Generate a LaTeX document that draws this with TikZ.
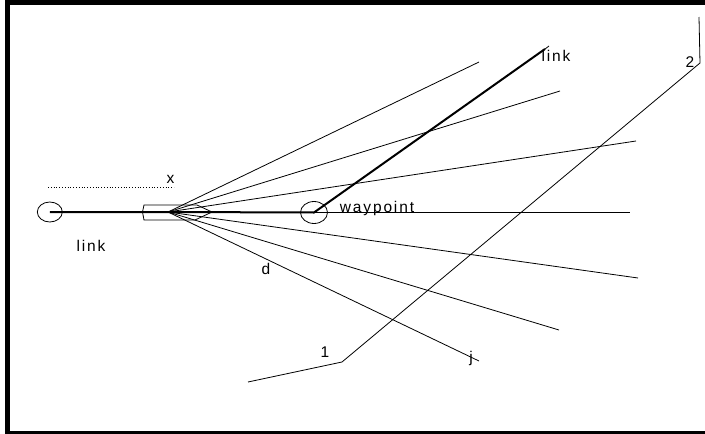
\documentclass[tikz,border=0pt]{standalone}
\usepackage{fontspec}
\setmainfont{Liberation Sans}
\newfontfamily\lblfont[LetterSpace=12]{Liberation Sans}
\usetikzlibrary{calc, shapes.geometric}
\definecolor{inkBlack}{HTML}{000000}

\begin{document}
\begin{tikzpicture}[
  x=1pt, y=-1pt,
  thin line/.style={draw=inkBlack, line width=0.8pt},
  thick line/.style={draw=inkBlack, line width=2pt},
  lbl/.style={font=\lblfont\fontsize{15.5pt}{17pt}\selectfont, text=inkBlack, inner sep=0pt},
  pt/.style={ellipse, draw=inkBlack, line width=0.8pt, inner sep=0pt},
]
\useasboundingbox (0,0) rectangle (705,434);

% frame
\fill[inkBlack] (5,0) rectangle (705,5);
\fill[inkBlack] (5,431) rectangle (705,434);
\fill[inkBlack] (5,0) rectangle (10,434);

% fan of lines
\coordinate (apex) at (168,212);
\coordinate (ray1) at (479,62);
\coordinate (ray2) at (560,91);
\coordinate (ray3) at (636,141);
\coordinate (ray4) at (630,212);
\coordinate (ray5) at (638,278);
\coordinate (ray6) at (559,330);
\coordinate (ray7) at (479,361);
\foreach \r in {ray1,ray2,ray3,ray4,ray5,ray6,ray7}
  \draw[thin line] (apex) -- (\r);

% path
\node[pt, minimum width=25pt, minimum height=20pt] (start) at (49.8,212) {};
\node[pt, minimum width=27pt, minimum height=22pt] (way) at (314,212.5) {};
\coordinate (linkBold) at (545,49);
\coordinate (linkEnd) at (549,46);
\draw[thick line] (start.center) -- (apex) -- (way.center) -- (linkBold);
\draw[thin line] (linkBold) -- (linkEnd);

% vehicle
\coordinate (hull) at (144,205);
\draw[thin line] (hull) -- (197,205) -- (212,212) -- (195,220) -- (144,220)
  -- (142.5,212) -- cycle;

% boundary
\coordinate (b0) at (248,382);
\coordinate (b1) at (342,362);
\coordinate (b2) at (700,63);
\coordinate (b3) at (699,17);
\draw[thin line] (b0) -- (b1) -- (b2) -- (b3);

% offset
\coordinate (off0) at (48,187);
\coordinate (off1) at (174,187);
\draw[thin line, dotted] (off0) -- (off1);

\node[lbl] (labelx) at (170.5,179) {x};
\node[lbl] (labellink) at (91,246) {link};
\node[lbl] (labeltop) at (556,56) {link};
\node[lbl] (labelway) at (377,208) {waypoint};
\node[lbl] (labeld) at (266,269) {d};
\node[lbl] (labelj) at (471,358) {j};
\node[lbl] (labelone) at (325,352) {1};
\node[lbl] (labeltwo) at (690,62) {2};
\end{tikzpicture}
\end{document}
